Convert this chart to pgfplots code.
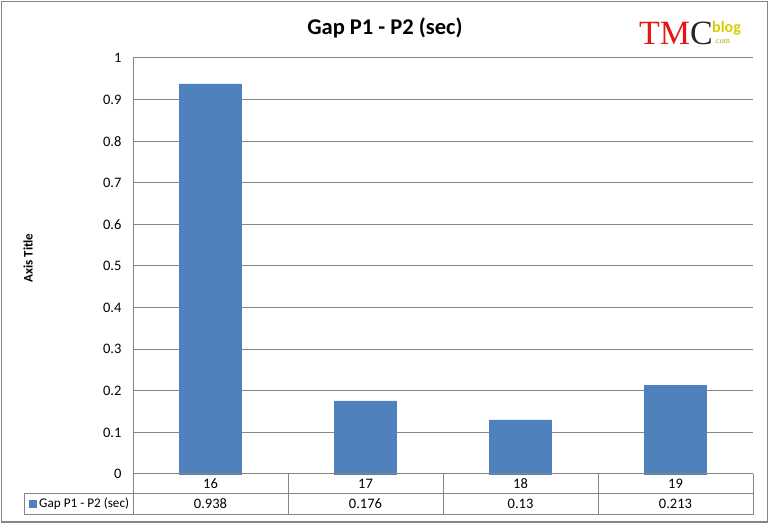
\documentclass[border=0pt]{standalone}
\usepackage{pgfplots}
\pgfplotsset{compat=1.18}
\usepackage{fontspec}
\setmainfont{Carlito}
\definecolor{barblue}{RGB}{79,129,189}
\definecolor{gridgray}{RGB}{134,134,134}
\definecolor{logored}{RGB}{230,20,20}
\definecolor{logoyellow}{RGB}{215,205,0}
\begin{document}
\begin{tikzpicture}[x=1pt,y=1pt]
\useasboundingbox (0,0) rectangle (770,524);
\draw[gridgray, line width=1.2pt] (1.5,2) rectangle (767.5,522.5);
\begin{axis}[
  at={(133pt,50pt)}, anchor=south west,
  width=620pt, height=416pt, scale only axis,
  xmin=15.5, xmax=19.5, ymin=0, ymax=1,
  ytick={0,0.1,0.2,0.3,0.4,0.5,0.6,0.7,0.8,0.9,1},
  yticklabels={0,0.1,0.2,0.3,0.4,0.5,0.6,0.7,0.8,0.9,1},
  xtick=\empty,
  ymajorgrids, grid style={gridgray, line width=1pt},
  axis lines*=left,
  axis line style={gridgray, line width=1pt, -},
  major tick length=0pt,
  tick label style={font=\fontsize{14.5}{16}\selectfont},
  yticklabel style={xshift=-8pt},
  /pgf/number format/assume math mode=true,
  ybar, bar width=62pt,
  clip=false,
]
\addplot[fill=barblue, draw=barblue] coordinates {(16,0.938) (17,0.176) (18,0.13) (19,0.213)};
\end{axis}
% data table
\begin{scope}[gridgray, line width=1pt]
\draw (133,50) -- (753,50);
\draw (24,30) -- (753,30);
\draw (24,9) -- (753,9);
\draw (24,30) -- (24,9);
\foreach \xx in {133,288,443,598,753} \draw (\xx,50) -- (\xx,9);
\end{scope}
\begin{scope}[font=\fontsize{14.5}{16}\selectfont]
\node at (210.5,40) {16};
\node at (365.5,40) {17};
\node at (520.5,40) {18};
\node at (675.5,40) {19};
\node at (210.5,20) {0.938};
\node at (365.5,20) {0.176};
\node at (520.5,20) {0.13};
\node at (675.5,20) {0.213};
\fill[barblue] (29,16) rectangle (37,24);
\node[anchor=west, inner sep=0pt, font=\fontsize{13.2}{15}\selectfont] at (39,20) {Gap P1 - P2 (sec)};
\end{scope}
% title
\node[font=\fontsize{22.5}{26}\selectfont\bfseries] at (385,496) {Gap P1 - P2 (sec)};
% axis title
\node[rotate=90, font=\fontsize{13}{14}\selectfont\bfseries] at (28,266) {Axis Title};
% logo
\node[anchor=west, inner sep=0pt, font=\fontspec{Liberation Serif}\fontsize{34}{34}\selectfont] at (639,491) {\textcolor{logored}{TM}\textcolor{black!85}{C}};
\node[anchor=west, inner sep=0pt, font=\fontsize{16}{16}\selectfont\bfseries, text=logoyellow] at (712,496) {blog};
\node[anchor=west, inner sep=0pt, font=\fontspec{Liberation Serif}\fontsize{8}{8}\selectfont, text=logoyellow!80!black] at (714,482) {.com};
\end{tikzpicture}
\end{document}
